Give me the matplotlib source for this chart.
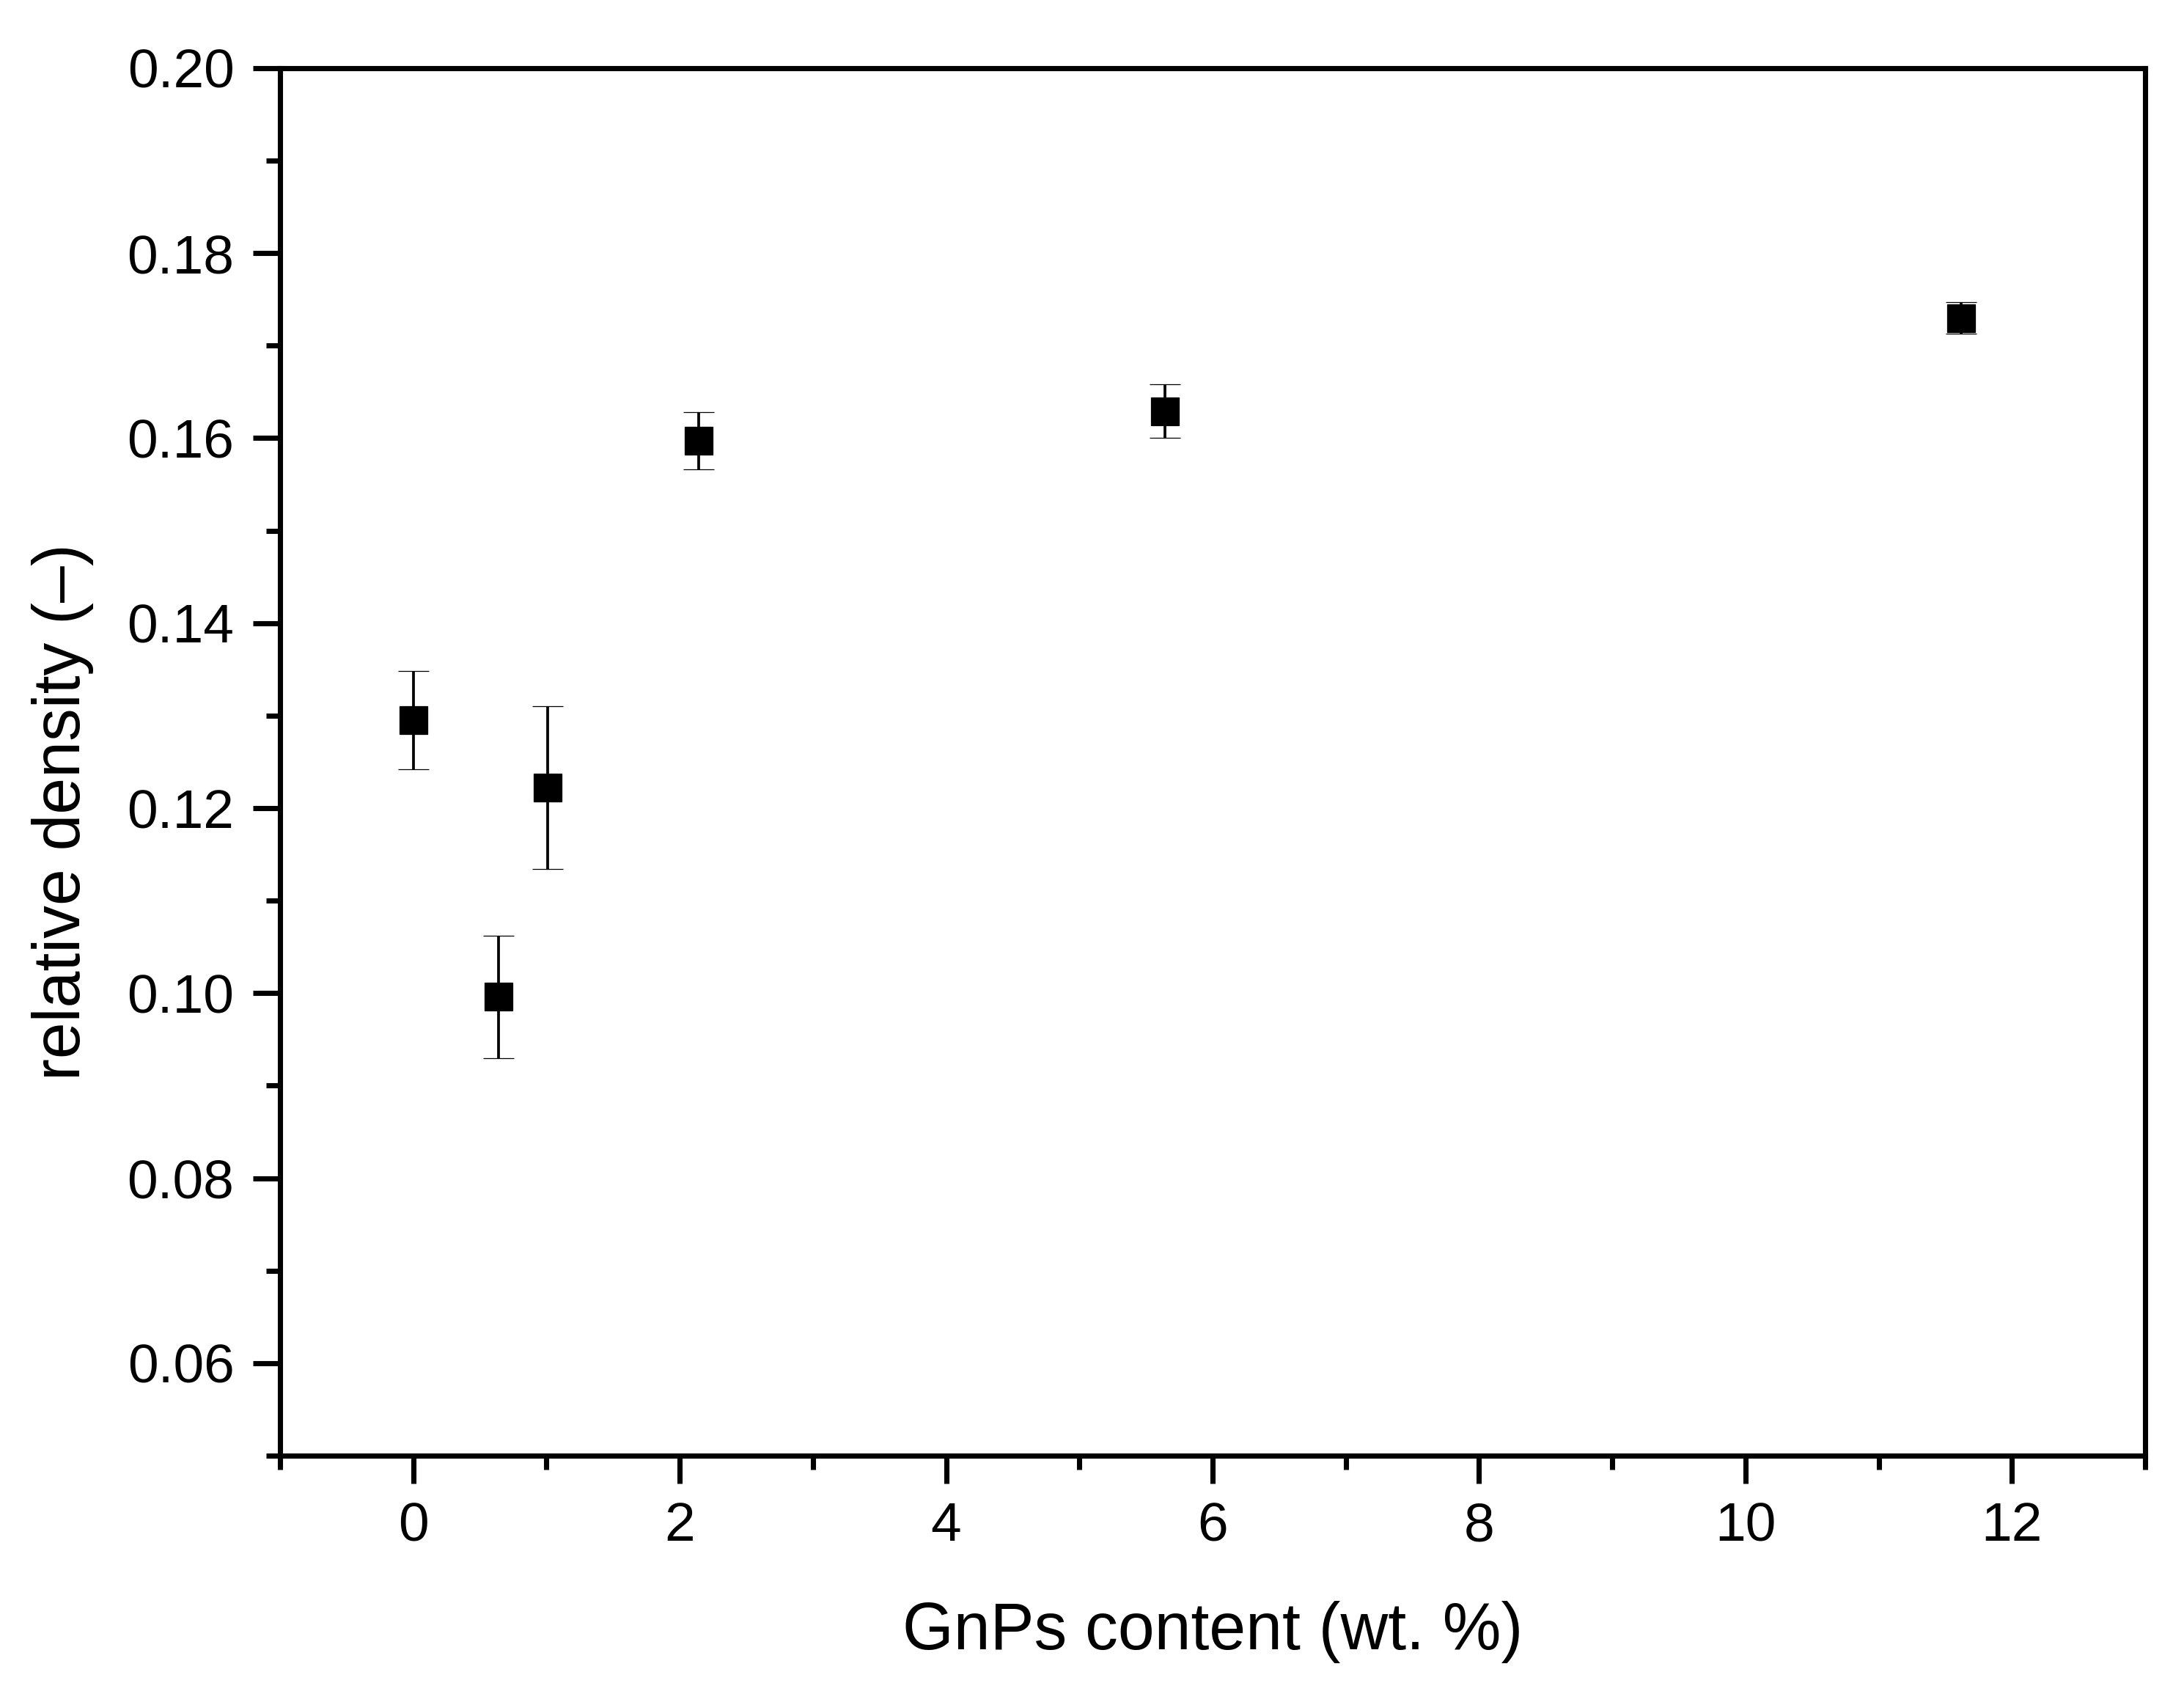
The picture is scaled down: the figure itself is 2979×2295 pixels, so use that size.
import matplotlib
matplotlib.use('Agg')
import matplotlib.pyplot as plt
from matplotlib.ticker import MultipleLocator, FormatStrFormatter

plt.rcParams['font.family'] = ['Liberation Sans', 'DejaVu Sans']

# data
gnp_content = [0.0, 0.64, 1.01, 2.14, 5.64, 11.62]
rel_density = [0.1295, 0.0996, 0.1222, 0.1597, 0.1629, 0.1730]
rel_density_err = [0.0053, 0.0066, 0.0088, 0.0031, 0.0029, 0.0017]

fig = plt.figure(figsize=(2979 / 300, 2295 / 300), dpi=300)
ax = fig.add_axes([0.1282, 0.1351, 0.8540, 0.8244])

ax.errorbar(gnp_content, rel_density, yerr=rel_density_err,
            fmt='s', color='black', ms=9.3, mec='black', mew=0.3,
            elinewidth=0.9, capsize=5, capthick=1.2, zorder=3)

ax.set_xlim(-1, 13)
ax.set_ylim(0.05, 0.20)
ax.xaxis.set_major_locator(MultipleLocator(2))
ax.xaxis.set_minor_locator(MultipleLocator(1))
ax.yaxis.set_major_locator(MultipleLocator(0.02))
ax.yaxis.set_minor_locator(MultipleLocator(0.01))
ax.yaxis.set_major_formatter(FormatStrFormatter('%.2f'))

# 0.05 has no label in the original
ax.set_yticks([0.06, 0.08, 0.10, 0.12, 0.14, 0.16, 0.18, 0.20])

for sp in ax.spines.values():
    sp.set_linewidth(1.7)

ax.tick_params(which='major', direction='out', length=9, width=1.7,
               labelsize=18, pad=6, top=False, right=False)
ax.tick_params(which='minor', direction='out', length=4.5, width=1.7,
               top=False, right=False)

ax.set_xlabel('GnPs content (wt. %)', fontsize=21.5, labelpad=16)
ax.set_ylabel('relative density (\u2013)', fontsize=21.5)
ax.yaxis.set_label_coords(-0.100, 0.464)

fig.savefig('out.png', dpi=300, facecolor='white')
